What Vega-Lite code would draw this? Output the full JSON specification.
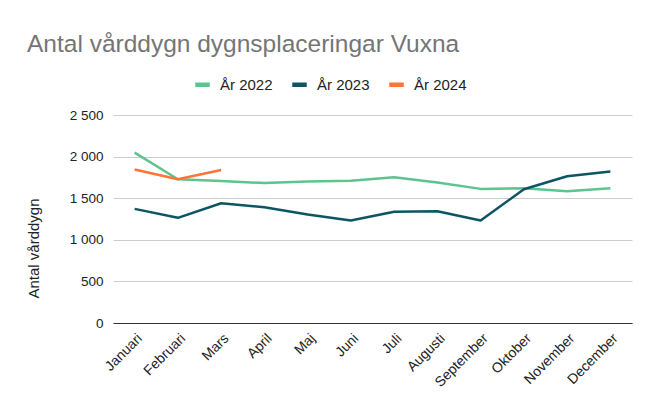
{
  "$schema": "https://vega.github.io/schema/vega-lite/v6.json",
  "width": 519,
  "height": 208,
  "autosize": {"type": "none"},
  "padding": {"left": 113, "top": 115, "right": 13, "bottom": 84},
  "background": "white",
  "title": {
    "text": "Antal vårddygn dygnsplaceringar Vuxna",
    "anchor": "start",
    "frame": "group",
    "dx": -86,
    "offset": 18,
    "fontSize": 24.5,
    "font": "Liberation Sans",
    "fontWeight": "normal",
    "color": "#757575"
  },
  "data": {
    "values": [
      {"month": "Januari", "year": "År 2022", "value": 2048},
      {"month": "Februari", "year": "År 2022", "value": 1728},
      {"month": "Mars", "year": "År 2022", "value": 1708},
      {"month": "April", "year": "År 2022", "value": 1682},
      {"month": "Maj", "year": "År 2022", "value": 1700},
      {"month": "Juni", "year": "År 2022", "value": 1710},
      {"month": "Juli", "year": "År 2022", "value": 1752},
      {"month": "Augusti", "year": "År 2022", "value": 1688},
      {"month": "September", "year": "År 2022", "value": 1612},
      {"month": "Oktober", "year": "År 2022", "value": 1620},
      {"month": "November", "year": "År 2022", "value": 1584},
      {"month": "December", "year": "År 2022", "value": 1620},
      {"month": "Januari", "year": "År 2023", "value": 1372},
      {"month": "Februari", "year": "År 2023", "value": 1264},
      {"month": "Mars", "year": "År 2023", "value": 1440},
      {"month": "April", "year": "År 2023", "value": 1392},
      {"month": "Maj", "year": "År 2023", "value": 1305},
      {"month": "Juni", "year": "År 2023", "value": 1232},
      {"month": "Juli", "year": "År 2023", "value": 1336},
      {"month": "Augusti", "year": "År 2023", "value": 1344},
      {"month": "September", "year": "År 2023", "value": 1232},
      {"month": "Oktober", "year": "År 2023", "value": 1608},
      {"month": "November", "year": "År 2023", "value": 1764},
      {"month": "December", "year": "År 2023", "value": 1820},
      {"month": "Januari", "year": "År 2024", "value": 1844},
      {"month": "Februari", "year": "År 2024", "value": 1728},
      {"month": "Mars", "year": "År 2024", "value": 1840}
    ]
  },
  "mark": {"type": "line", "strokeWidth": 2.5, "strokeJoin": "round"},
  "encoding": {
    "x": {
      "field": "month",
      "type": "ordinal",
      "sort": ["Januari","Februari","Mars","April","Maj","Juni","Juli","Augusti","September","Oktober","November","December"],
      "scale": {"type": "point", "padding": 0.5},
      "axis": {
        "title": null,
        "labelAngle": -45,
        "labelFont": "Liberation Sans",
        "labelFontSize": 14,
        "labelColor": "#222222",
        "ticks": false,
        "domain": true,
        "domainColor": "#333333",
        "domainWidth": 1.2,
        "labelPadding": 8,
        "grid": false
      }
    },
    "y": {
      "field": "value",
      "type": "quantitative",
      "scale": {"domain": [0, 2500]},
      "axis": {
        "title": "Antal vårddygn",
        "titleFont": "Liberation Sans",
        "titleFontSize": 15,
        "titleFontWeight": "normal",
        "titleColor": "#222222",
        "titleX": -80,
        "titleY": 133,
        "titleAngle": -90,
        "titleAlign": "center",
        "titleBaseline": "middle",
        "values": [0, 500, 1000, 1500, 2000, 2500],
        "labelExpr": "replace(format(datum.value, ','), ',', ' ')",
        "labelFont": "Liberation Sans",
        "labelFontSize": 13.5,
        "labelColor": "#222222",
        "labelPadding": 10,
        "ticks": false,
        "domain": false,
        "gridColor": "#cccccc",
        "gridWidth": 1
      }
    },
    "color": {
      "field": "year",
      "type": "nominal",
      "scale": {"domain": ["År 2022", "År 2023", "År 2024"], "range": ["#5cc48f", "#0c5664", "#fc7437"]},
      "legend": {
        "title": null,
        "orient": "none",
        "direction": "horizontal",
        "legendX": 80,
        "legendY": -40,
        "symbolType": "stroke",
        "symbolSize": 210,
        "symbolStrokeWidth": 4.5,
        "labelFont": "Liberation Sans",
        "labelFontSize": 15,
        "labelColor": "#222222",
        "labelOffset": 8,
        "columnPadding": 10
      }
    }
  },
  "config": {"view": {"stroke": null}}
}
